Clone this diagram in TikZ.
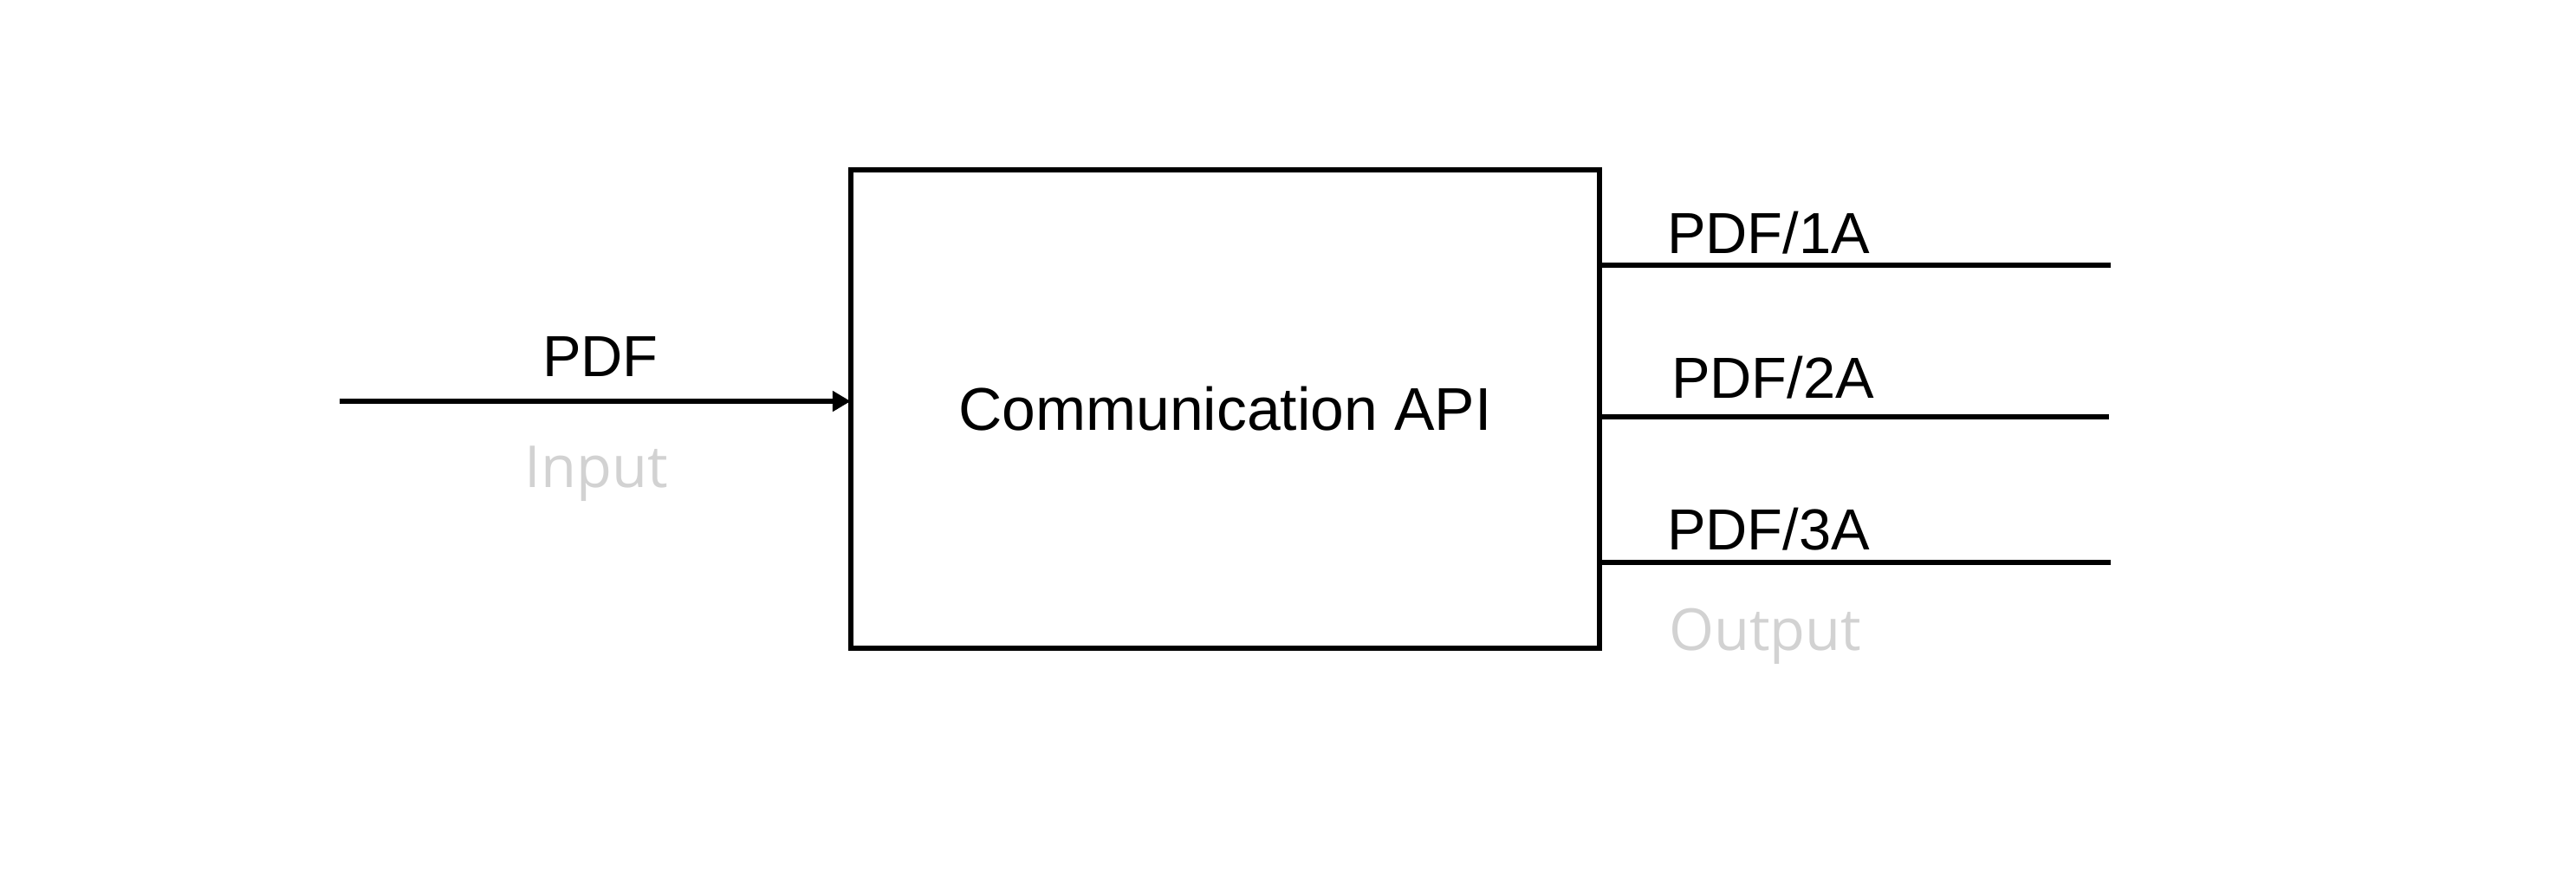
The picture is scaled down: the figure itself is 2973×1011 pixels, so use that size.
\documentclass[tikz,border=0pt]{standalone}
\usepackage{fontspec}
\setmainfont{Liberation Sans}
\newfontfamily\capfont{Open Sans}
\usetikzlibrary{arrows.meta}
\definecolor{faint}{RGB}{210,210,210}
\begin{document}
\begin{tikzpicture}[x=0.01cm,y=-0.01cm,
  every node/.style={font=\fontsize{19pt}{23pt}\selectfont, inner sep=0pt, outer sep=0pt},
  wire/.style={line width=0.06cm, line cap=butt},
  mainbox/.style={draw, line width=0.06cm, minimum width=8.64cm, minimum height=5.52cm,
    font=\fontsize{19.8pt}{24pt}\selectfont},
  caption/.style={text=faint, font=\capfont\fontsize{19pt}{23pt}\selectfont}]
\useasboundingbox (0,0) rectangle (2973,1011);
\node[mainbox] (box) at (1414,472) {Communication API};
% input
\coordinate (inp) at (392,463);
\draw[wire, -{Triangle[length=0.21cm, width=0.23cm]}] (inp) -- (inp -| box.west);
\node[anchor=base] (pdf) at (693,434) {PDF};
\node[anchor=base, caption] (input) at (688,562) {Input};
% outputs
\coordinate (o1) at (2436,306);
\coordinate (o2) at (2434,481);
\coordinate (o3) at (2436,649);
\draw[wire] (o1 -| box.east) -- (o1);
\draw[wire] (o2 -| box.east) -- (o2);
\draw[wire] (o3 -| box.east) -- (o3);
\node[anchor=base west] (p1) at (1924,292) {PDF/1A};
\node[anchor=base west] (p2) at (1929,459) {PDF/2A};
\node[anchor=base west] (p3) at (1924,634) {PDF/3A};
\node[anchor=base west, caption] (outp) at (1926,750) {Output};
\end{tikzpicture}
\end{document}
